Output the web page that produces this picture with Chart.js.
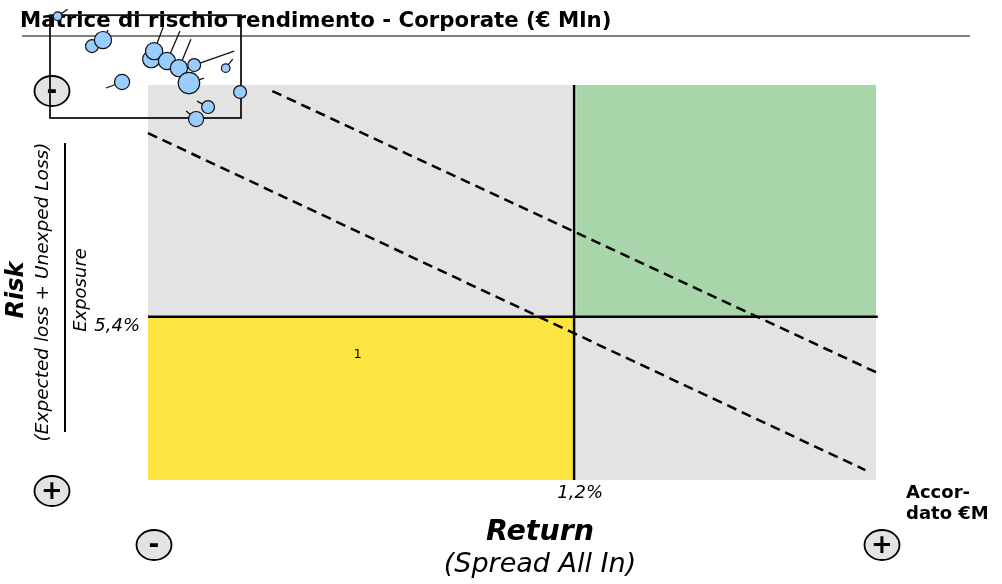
<!DOCTYPE html>
<html>
<head>
<meta charset="utf-8">
<script src="https://cdn.jsdelivr.net/npm/chart.js@4.4.1/dist/chart.umd.min.js"></script>
<style>
  html, body { margin: 0; padding: 0; background: #ffffff; }
  #wrap { position: relative; width: 1002px; height: 584px; overflow: hidden; }
  #wrap canvas { position: absolute; left: 0; top: 0; }
</style>
</head>
<body>
<div id="wrap">
  <canvas id="matrix" width="1002" height="584"></canvas>
  <canvas id="portfolio" width="300" height="140"></canvas>
</div>
<script>
// ---- Matrix axes (Return = spread all-in %, Risk = (EL + UL) / exposure %) ----
const returnRange = [0, 2.05];
const riskRange = [0, 9.2];
const returnThreshold = 1.2;
const riskThreshold = 5.4;
const returnTickLabel = '1,2%';
const riskTickLabel = '5,4%';

// Iso-profitability lines (return %, risk %)
const isoLineA = [{ x: 0.35, y: 0.14 }, { x: 2.05, y: 6.69 }];
const isoLineB = [{ x: 0.0, y: 1.12 }, { x: 2.02, y: 8.97 }];

// Number of positions shown in the low-return / high-risk quadrant
const quadrantCountPos = [{ x: 0.59, y: 6.29 }];
const quadrantCountText = ['1'];

// ---- Counterparties (portfolio panel) ----
const cpReturn     = [0.08, 0.44, 0.555, 1.06, 1.09, 1.225, 1.35, 1.51, 1.84, 1.455, 0.755, 1.99, 1.655, 1.53];
const cpRisk       = [0.08, 2.41, 1.94, 3.42, 2.80, 3.57, 4.12, 3.88, 4.12, 5.28, 5.20, 5.98, 7.15, 8.08];
const cpAccordato  = [25, 56, 100, 100, 100, 100, 100, 56, 25, 156, 77, 56, 56, 77];
// Portfolio total
const totReturn = [2.19];
const totRisk = [6.99];
const totAccordato = [264];
const panelReturnRange = [0, 2];
const panelRiskRange = [0, 8];

// Bubble radius from granted amount (€M)
const radiusOf = v => Math.sqrt(v) * 0.86;

// Quadrant backgrounds
const quadrantPlugin = {
  id: 'quadrants',
  beforeDatasetsDraw(chart) {
    const { ctx, scales: { x, y } } = chart;
    const x0 = x.getPixelForValue(returnRange[0]);
    const x1 = x.getPixelForValue(returnRange[1]);
    const xm = x.getPixelForValue(returnThreshold);
    const y0 = y.getPixelForValue(riskRange[0]);
    const y1 = y.getPixelForValue(riskRange[1]);
    const ym = y.getPixelForValue(riskThreshold);
    ctx.save();
    ctx.fillStyle = '#e3e3e3';
    ctx.fillRect(x0, y0, xm - x0, ym - y0);
    ctx.fillRect(xm + 2, ym, x1 - xm - 2, y1 - ym);
    ctx.fillStyle = '#a8d5aa';
    ctx.fillRect(xm + 2, y0, x1 - xm - 2, ym - y0);
    ctx.fillStyle = '#fde541';
    ctx.fillRect(x0, ym, xm - x0, y1 - ym);
    ctx.restore();
  }
};

function signOval(ctx, cx, cy, sign) {
  ctx.save();
  ctx.beginPath();
  ctx.ellipse(cx, cy, 17.5, 15, 0, 0, Math.PI * 2);
  ctx.fillStyle = '#e3e3e3';
  ctx.fill();
  ctx.lineWidth = 1.8;
  ctx.strokeStyle = '#000';
  ctx.stroke();
  ctx.fillStyle = '#000';
  ctx.textAlign = 'center';
  ctx.textBaseline = 'middle';
  ctx.font = 'bold 26px "DejaVu Sans"';
  ctx.fillText(sign, cx, cy + 1);
  ctx.restore();
}

function rotatedText(ctx, text, cx, cy, font) {
  ctx.save();
  ctx.translate(cx, cy);
  ctx.rotate(-Math.PI / 2);
  ctx.font = font;
  ctx.textAlign = 'center';
  ctx.textBaseline = 'middle';
  ctx.fillText(text, 0, 0);
  ctx.restore();
}

// Titles, axis captions, threshold labels and +/- markers
const textPlugin = {
  id: 'captions',
  afterDraw(chart) {
    const { ctx, scales: { x, y } } = chart;
    ctx.save();
    ctx.fillStyle = '#000';

    // Title and rule
    ctx.font = 'bold 21.3px "DejaVu Sans"';
    ctx.textAlign = 'left';
    ctx.textBaseline = 'alphabetic';
    ctx.fillText('Matrice di rischio rendimento - Corporate (€ Mln)', 20, 27);
    ctx.strokeStyle = '#7f7f7f';
    ctx.lineWidth = 2;
    ctx.beginPath();
    ctx.moveTo(22, 36);
    ctx.lineTo(970, 36);
    ctx.stroke();

    // Risk caption
    rotatedText(ctx, 'Risk', 17, 290, 'italic bold 24px "DejaVu Sans"');
    rotatedText(ctx, '(Expected loss + Unexped Loss)', 43, 292, 'italic 18.5px "DejaVu Sans"');
    ctx.strokeStyle = '#000';
    ctx.lineWidth = 2;
    ctx.beginPath();
    ctx.moveTo(65, 143);
    ctx.lineTo(65, 432);
    ctx.stroke();
    rotatedText(ctx, 'Exposure', 81, 290, 'italic 18px "DejaVu Sans"');

    // Threshold labels
    ctx.font = 'italic 18px "DejaVu Sans"';
    ctx.textAlign = 'right';
    ctx.textBaseline = 'alphabetic';
    ctx.fillText(riskTickLabel, 140, y.getPixelForValue(riskThreshold) + 14);
    ctx.textAlign = 'center';
    ctx.fillText(returnTickLabel, x.getPixelForValue(returnThreshold) + 6, 498);

    // Quadrant count
    ctx.font = '13px "DejaVu Sans"';
    ctx.textAlign = 'center';
    ctx.textBaseline = 'middle';
    quadrantCountPos.forEach((p, i) => {
      ctx.fillText(quadrantCountText[i], x.getPixelForValue(p.x), y.getPixelForValue(p.y));
    });

    // Return caption
    ctx.font = 'italic bold 28.5px "DejaVu Sans"';
    ctx.textBaseline = 'alphabetic';
    ctx.fillText('Return', 540, 540);
    ctx.font = 'italic 27px "DejaVu Sans"';
    ctx.fillText('(Spread All In)', 540, 572);

    // Granted amount legend caption
    ctx.font = 'bold 18px "DejaVu Sans"';
    ctx.textAlign = 'left';
    ctx.fillText('Accor-', 906, 498);
    ctx.fillText('dato €M', 906, 519);
    ctx.restore();

    signOval(ctx, 52, 91, '-');
    signOval(ctx, 52, 491, '+');
    signOval(ctx, 154, 545, '-');
    signOval(ctx, 882, 545, '+');
  }
};

const lineStyle = { borderColor: '#000', borderWidth: 2.5, pointRadius: 0, showLine: true, fill: false, clip: false };

new Chart(document.getElementById('matrix'), {
  type: 'scatter',
  data: {
    datasets: [
      Object.assign({ data: [{ x: returnThreshold, y: riskRange[0] }, { x: returnThreshold, y: riskRange[1] }] }, lineStyle),
      Object.assign({ data: [{ x: returnRange[0], y: riskThreshold }, { x: returnRange[1] + 0.005, y: riskThreshold }] }, lineStyle),
      Object.assign({ data: isoLineA, borderDash: [10, 6] }, lineStyle),
      Object.assign({ data: isoLineB, borderDash: [10, 6] }, lineStyle)
    ]
  },
  options: {
    responsive: false,
    animation: false,
    events: [],
    devicePixelRatio: 1,
    layout: { padding: { left: 148, top: 85, right: 126, bottom: 104 } },
    scales: {
      x: { type: 'linear', min: returnRange[0], max: returnRange[1], display: false },
      y: { type: 'linear', min: riskRange[0], max: riskRange[1], reverse: true, display: false }
    },
    plugins: { legend: { display: false }, tooltip: { enabled: false } }
  },
  plugins: [quadrantPlugin, textPlugin]
});

// Frame and label leaders for the portfolio panel
const leaderOffsets = [[10, -7], null, [5, -10], null, [9, -24], [13, -30], [12, -29], [40, -14], [7, -9], [15, -5], [-16, 6], null, [-11, -6], [-10, -8]];
const panelPlugin = {
  id: 'panelFrame',
  beforeDatasetsDraw(chart) {
    const { ctx, chartArea: a } = chart;
    ctx.save();
    ctx.strokeStyle = '#111';
    ctx.lineWidth = 1.8;
    ctx.strokeRect(a.left, a.top, a.right - a.left, a.bottom - a.top);
    ctx.lineWidth = 1.3;
    const meta = chart.getDatasetMeta(0);
    meta.data.forEach((pt, i) => {
      const off = leaderOffsets[i];
      if (!off) return;
      ctx.beginPath();
      ctx.moveTo(pt.x, pt.y);
      ctx.lineTo(pt.x + off[0], pt.y + off[1]);
      ctx.stroke();
    });
    ctx.restore();
  }
};

new Chart(document.getElementById('portfolio'), {
  type: 'bubble',
  data: {
    datasets: [
      {
        data: cpReturn.map((v, i) => ({ x: v, y: cpRisk[i], r: radiusOf(cpAccordato[i]) })),
        backgroundColor: '#99ccff',
        borderColor: '#111',
        borderWidth: 1.2,
        clip: false
      },
      {
        data: totReturn.map((v, i) => ({ x: v, y: totRisk[i], r: radiusOf(totAccordato[i]) })),
        backgroundColor: '#ffffff',
        borderColor: '#111',
        borderWidth: 1.2,
        clip: false
      }
    ]
  },
  options: {
    responsive: false,
    animation: false,
    events: [],
    devicePixelRatio: 1,
    layout: { padding: { left: 50, top: 15, right: 59, bottom: 22 } },
    scales: {
      x: { type: 'linear', min: panelReturnRange[0], max: panelReturnRange[1], display: false },
      y: { type: 'linear', min: panelRiskRange[0], max: panelRiskRange[1], reverse: true, display: false }
    },
    plugins: { legend: { display: false }, tooltip: { enabled: false } }
  },
  plugins: [panelPlugin]
});
</script>
</body>
</html>
